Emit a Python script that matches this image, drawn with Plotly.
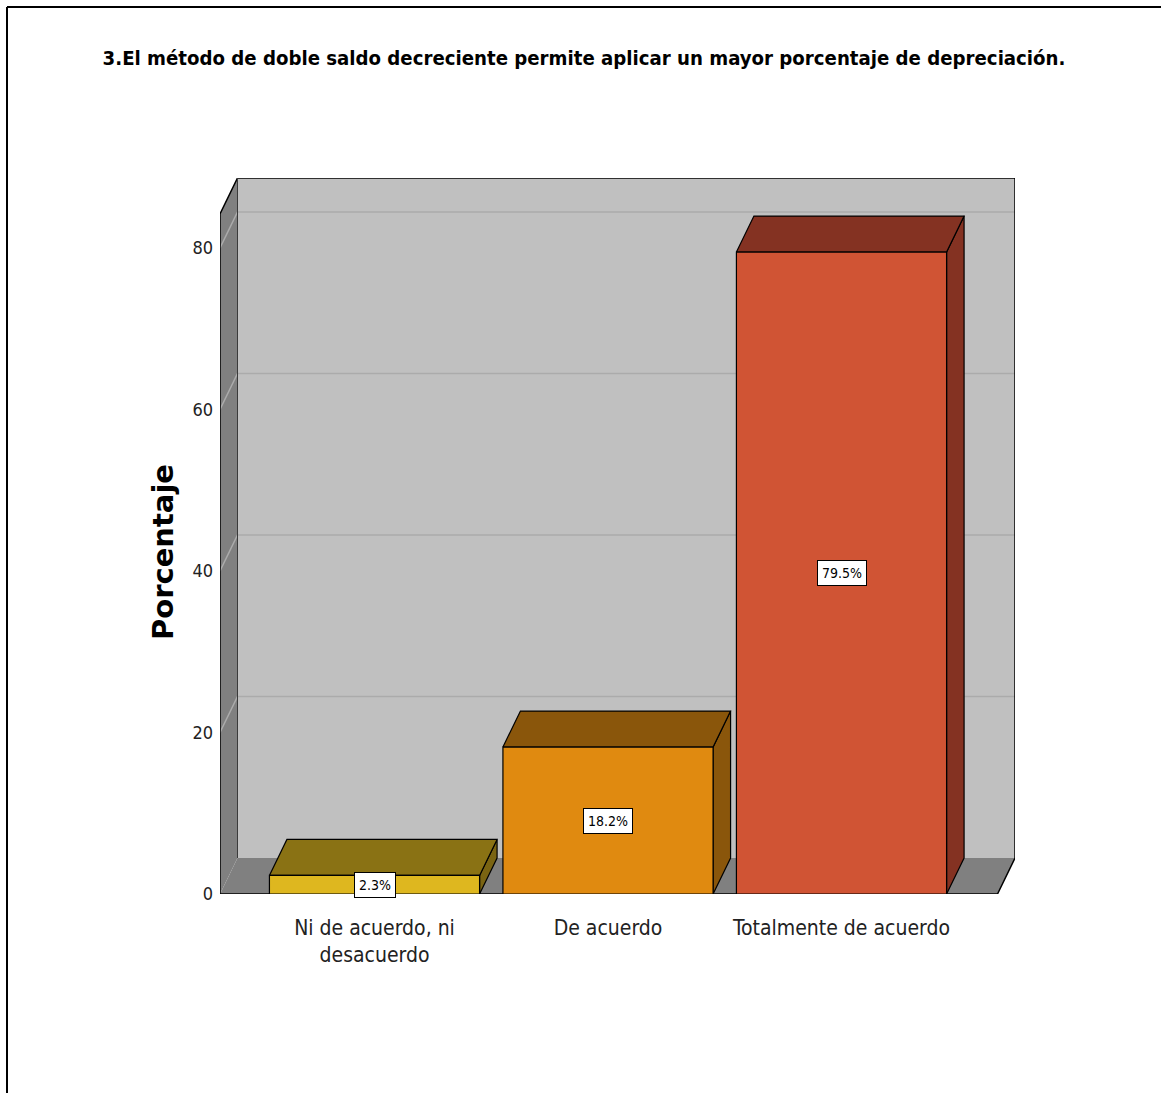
import plotly.graph_objects as go

# Survey answers and their shares (percent)
categories = ["Ni de acuerdo, ni<br>desacuerdo", "De acuerdo", "Totalmente de acuerdo"]
percentages = [2.3, 18.2, 79.5]
y_ticks = [0, 20, 40, 60, 80]

title_text = "3.El método de doble saldo decreciente permite aplicar un mayor porcentaje de depreciación."
y_title = "Porcentaje"

# Styling
front_colors = ["#DEB71F", "#E08A10", "#D05434"]
top_colors = ["#8A7214", "#8A560B", "#843222"]
side_colors = ["#7A6412", "#8A560B", "#843222"]
back_wall = "#C0C0C0"
side_wall = "#808080"
grid_color = "#ABABAB"
cond = "DejaVu Sans Condensed, Liberation Sans, sans-serif"

W = 1161
H = 1106
# plot box in pixels (front-left bottom corner to back-right top corner)
px_left, px_right = 220, 1015
px_bottom, px_top = 894, 178
px_per_unit_y = (894 - 248) / 80.0
px_per_cat = 233.5
depth_px = (17.5, 36.0)

x_min = -(374.5 - px_left) / px_per_cat
x_max = x_min + (px_right - px_left) / px_per_cat
y_max = (px_bottom - px_top) / px_per_unit_y
DX = depth_px[0] / px_per_cat
DY = depth_px[1] / px_per_unit_y
half_w = 0.45
x_floor_right = x_max - DX

fig = go.Figure()


def poly(xs, ys, fill, lw=1.2, lc="black"):
    fig.add_trace(go.Scatter(
        x=xs + [xs[0]], y=ys + [ys[0]], mode="lines", fill="toself",
        fillcolor=fill, line=dict(color=lc, width=lw),
        hoverinfo="skip", showlegend=False))


def seg(xs, ys, color, width):
    fig.add_trace(go.Scatter(x=xs, y=ys, mode="lines",
                             line=dict(color=color, width=width),
                             hoverinfo="skip", showlegend=False))


# back wall
poly([x_min + DX, x_max, x_max, x_min + DX],
     [DY, DY, y_max, y_max], back_wall, lw=0)
# left wall
poly([x_min, x_min + DX, x_min + DX, x_min],
     [0, DY, y_max, y_max - DY], side_wall, lw=0)
# floor
poly([x_min, x_floor_right, x_max, x_min + DX],
     [0, 0, DY, DY], side_wall, lw=0)

# gridlines on the walls
for v in y_ticks[1:]:
    seg([x_min, x_min + DX, x_max], [v, v + DY, v + DY], grid_color, 1.5)

# wall outlines
seg([x_min, x_min, x_min + DX, x_max, x_max],
    [0, y_max - DY, y_max, y_max, DY], "black", 1.5)
seg([x_min + DX, x_min + DX], [DY, y_max], "#3a3a3a", 1)
seg([x_min, x_floor_right, x_max], [0, 0, DY], "black", 1.5)

# 3D bars
for i, v in enumerate(percentages):
    l, r = i - half_w, i + half_w
    poly([r, r + DX, r + DX, r], [0, DY, v + DY, v], side_colors[i])
    poly([l, r, r + DX, l + DX], [v, v, v + DY, v + DY], top_colors[i])
    poly([l, r, r, l], [0, 0, v, v], front_colors[i])
    fig.add_annotation(x=i, y=v / 2, text=f"{v}%", showarrow=False,
                       xref="x", yref="y",
                       font=dict(family=cond, size=14, color="black"),
                       bgcolor="white", bordercolor="black", borderwidth=1,
                       borderpad=4)

fig.update_layout(
    width=W, height=H, autosize=False,
    margin=dict(l=0, r=0, t=0, b=0),
    paper_bgcolor="white", plot_bgcolor="white",
    title=dict(text=f"<b>{title_text}</b>", x=584 / W, y=1 - 58 / H,
               xanchor="center", yanchor="middle", xref="paper", yref="paper",
               font=dict(family=cond, size=20.2, color="black")),
    xaxis=dict(domain=[px_left / W, px_right / W], range=[x_min, x_max],
               tickvals=list(range(len(categories))), ticktext=categories,
               showgrid=False, zeroline=False, showline=False, ticks="",
               ticklabelstandoff=19, automargin=False,
               tickfont=dict(family=cond, size=21, color="#222"),
               fixedrange=True),
    yaxis=dict(domain=[1 - px_bottom / H, 1 - px_top / H], range=[0, y_max],
               tickvals=y_ticks, showgrid=False, zeroline=False,
               showline=False, ticks="", ticklabelstandoff=6, automargin=False,
               tickfont=dict(family=cond, size=18, color="#222"),
               fixedrange=True),
    showlegend=False,
)

fig.add_annotation(text=f"<b>{y_title}</b>", xref="paper", yref="paper",
                   x=163 / W, y=1 - 552 / H, showarrow=False, textangle=-90,
                   xanchor="center", yanchor="middle",
                   font=dict(family="DejaVu Sans, sans-serif", size=29,
                             color="black"))

# page frame along the top and left edges
fig.add_shape(type="line", xref="paper", yref="paper",
              x0=7 / W, x1=1, y0=1 - 7 / H, y1=1 - 7 / H,
              line=dict(color="black", width=2))
fig.add_shape(type="line", xref="paper", yref="paper",
              x0=7 / W, x1=7 / W, y0=0, y1=1 - 7 / H,
              line=dict(color="black", width=2))

fig.write_html("out.html")
